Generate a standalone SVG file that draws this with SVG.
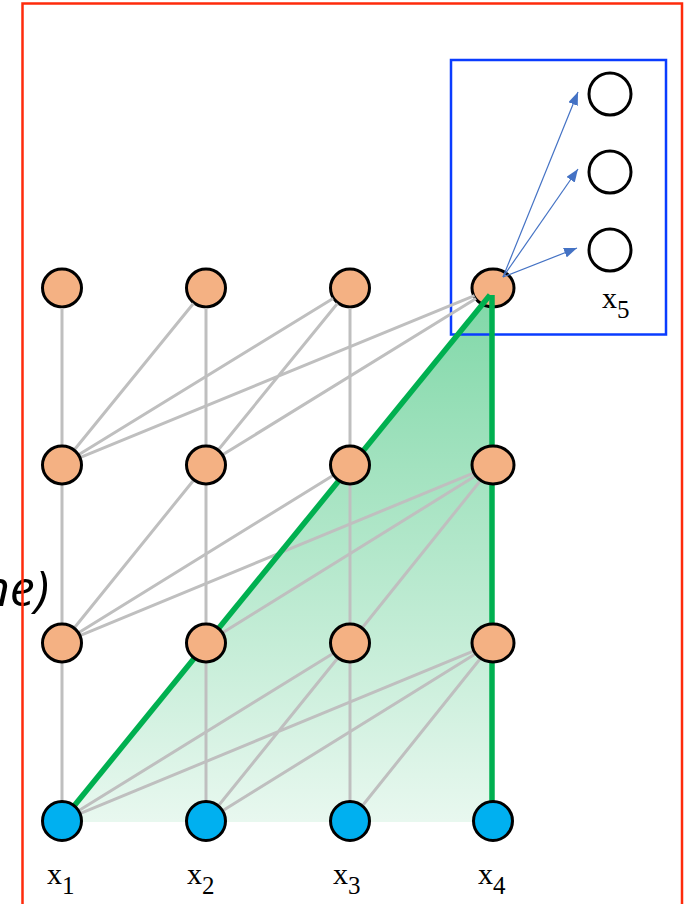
<svg xmlns="http://www.w3.org/2000/svg" width="684" height="904" viewBox="0 0 684 904">
<style>
.hid{fill:#f4b183;stroke:#000;stroke-width:3}
.inp{fill:#00b0f0;stroke:#000;stroke-width:3}
.out{fill:#fff;stroke:#000;stroke-width:3}
.g{stroke:#bfbfbf;stroke-width:3;fill:none}
.gr{stroke:#00b050;stroke-width:5.5;fill:none}
.ar{stroke:#4472c4;stroke-width:1.2;fill:none;marker-end:url(#ah)}
.lab{font-family:"Liberation Serif","DejaVu Serif",serif;font-size:30px;fill:#000}
.sub{font-size:25px}
</style>
<defs>
<linearGradient id="fillg" gradientUnits="userSpaceOnUse" x1="0" y1="292" x2="0" y2="822">
<stop offset="0" stop-color="#00b050" stop-opacity="0.5"/>
<stop offset="1" stop-color="#00b050" stop-opacity="0.09"/>
</linearGradient>
<marker id="ah" markerUnits="userSpaceOnUse" markerWidth="13" markerHeight="10" refX="13" refY="5" orient="auto">
<path d="M0,0 L13,5 L0,10 z" fill="#4472c4"/>
</marker>
</defs>
<rect width="684" height="904" fill="#fff"/>
<text x="49" y="606" font-family="'Open Sans','Liberation Sans',sans-serif" font-style="italic" font-size="50" text-anchor="end" fill="#000">ne)</text>
<polygon id="area" points="64,822 491,292 493,292 493,822" fill="url(#fillg)"/>
<rect id="scope" x="451" y="60" width="215" height="274.5" fill="none" stroke="#0a3cff" stroke-width="2.5"/>
<g id="n_1_1"><ellipse class="hid" cx="62" cy="288" rx="19.5" ry="19"/></g>
<g id="n_2_1"><ellipse class="hid" cx="206" cy="288" rx="19.5" ry="19"/></g>
<g id="n_3_1"><ellipse class="hid" cx="350" cy="288" rx="19.5" ry="19"/></g>
<g id="n_4_1"><ellipse class="hid" cx="493" cy="288" rx="21" ry="19"/></g>
<g id="connectors">
<path class="g" d="M62,308V445M62,485V623M62,663V801M206,308V445M206,485V623M206,663V801M350,308V445M350,485V623M350,663V801"/>
<path class="g" d="M74.6,449.5L193.4,303.5M79,454.5L333,298.5M80.5,457.4L474.5,295.6M218.6,449.5L337.4,303.5M223,454.5L476,298.5"/>
<path class="g" d="M74.6,627.5L193.4,480.5M79,632.5L333,475.5M80.5,635.4L474.5,472.6M223,632.5L476,475.5M362.5,627.5L480.5,480.5"/>
<path class="g" d="M79,810.5L333,653.5M80.5,813.4L474.5,650.6M218.6,805.5L337.4,658.5M223,810.5L476,653.5M362.6,805.5L480.4,658.5"/>
<path class="gr" d="M74,806L490,295"/>
<path class="gr" d="M492,295V801"/>
<path class="ar" d="M503,277L578,92"/>
<path class="ar" d="M503,277L578,169"/>
<path class="ar" d="M503,277L577,248"/>
</g>
<g id="n_1_2"><ellipse class="hid" cx="62" cy="465" rx="19.5" ry="19"/></g>
<g id="n_2_2"><ellipse class="hid" cx="206" cy="465" rx="19.5" ry="19"/></g>
<g id="n_3_2"><ellipse class="hid" cx="350" cy="465" rx="19.5" ry="19"/></g>
<g id="n_4_2"><ellipse class="hid" cx="493" cy="465" rx="21" ry="19"/></g>
<g id="n_1_3"><ellipse class="hid" cx="62" cy="643" rx="19.5" ry="19"/></g>
<g id="n_2_3"><ellipse class="hid" cx="206" cy="643" rx="19.5" ry="19"/></g>
<g id="n_3_3"><ellipse class="hid" cx="350" cy="643" rx="19.5" ry="19"/></g>
<g id="n_4_3"><ellipse class="hid" cx="493" cy="643" rx="21" ry="19"/></g>
<g id="x1"><circle class="inp" cx="62" cy="821" r="19.5"/><text class="lab" x="47" y="884">x<tspan class="sub" dy="10">1</tspan></text></g>
<g id="x2"><circle class="inp" cx="206" cy="821" r="19.5"/><text class="lab" x="187" y="884">x<tspan class="sub" dy="10">2</tspan></text></g>
<g id="x3"><circle class="inp" cx="350" cy="821" r="19.5"/><text class="lab" x="333" y="884">x<tspan class="sub" dy="10">3</tspan></text></g>
<g id="x4"><circle class="inp" cx="493" cy="821" r="19.5"/><text class="lab" x="478" y="884">x<tspan class="sub" dy="10">4</tspan></text></g>
<g id="o1"><circle class="out" cx="610" cy="94" r="21"/></g>
<g id="o2"><circle class="out" cx="610" cy="172" r="21"/></g>
<g id="o3"><circle class="out" cx="610" cy="250" r="21"/></g>
<g id="x5"><text class="lab" x="602" y="308">x<tspan class="sub" dy="10">5</tspan></text></g>
<rect id="frame" x="22.5" y="3.5" width="659.5" height="960" fill="none" stroke="#fe2b0b" stroke-width="2.5"/>
</svg>
